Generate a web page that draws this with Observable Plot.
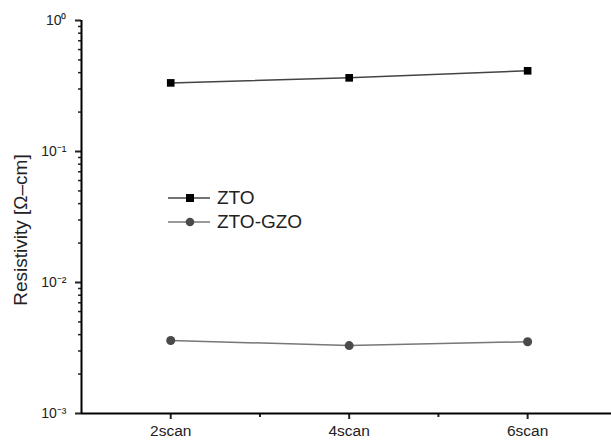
<!DOCTYPE html>
<html>
<head>
<meta charset="utf-8">
<script src="https://cdn.jsdelivr.net/npm/d3@7"></script>
<script src="https://cdn.jsdelivr.net/npm/@observablehq/plot@0.6"></script>
<style>
  body { margin: 0; background: #fff; font-family: "Liberation Sans", Arial, sans-serif; }
  #wrap { position: relative; width: 611px; height: 446px; }
  #legend { position: absolute; left: 167px; top: 186px; font-size: 19px; color: #222; }
  #legend .row { display: flex; align-items: center; height: 24px; }
  #legend svg { margin-right: 6px; }
</style>
</head>
<body>
<div id="wrap"><div id="legend"></div></div>
<script>
const categories = ["2scan", "4scan", "6scan"];
const positions = [2, 4, 6];
const ztoValues = [0.334, 0.365, 0.413];
const ztoGzoValues = [0.00361, 0.00330, 0.00353];
const seriesNames = ["ZTO", "ZTO-GZO"];
const yMajorTicks = [1e-3, 1e-2, 1e-1, 1];
const yMajorLabels = ["10\u207B\u00B3", "10\u207B\u00B2", "10\u207B\u00B9", "10\u2070"];
const yLabel = "Resistivity [\u03A9\u2013cm]";

const zto = categories.map((c, i) => ({x: positions[i], v: ztoValues[i]}));
const gzo = categories.map((c, i) => ({x: positions[i], v: ztoGzoValues[i]}));
const minorY = [];
for (const d of [1e-3, 1e-2, 1e-1]) for (let k = 2; k <= 9; k++) minorY.push(d * k);

const chart = Plot.plot({
  width: 611, height: 446,
  marginLeft: 81, marginRight: 0, marginTop: 20, marginBottom: 33,
  style: {fontFamily: "'Liberation Sans', Arial, sans-serif", color: "#222", background: "#fff"},
  x: {type: "linear", domain: [1, 6.94], axis: null},
  y: {type: "log", domain: [1e-3, 1], axis: null},
  marks: [
    Plot.axisX({ticks: positions, tickFormat: (d) => categories[positions.indexOf(d)], label: null, tickSize: 6, tickPadding: 5, fontSize: 15.5, strokeWidth: 2}),
    Plot.axisX({ticks: [3, 5], tickFormat: () => "", label: null, tickSize: 4, strokeWidth: 2}),
    Plot.axisY({ticks: yMajorTicks, tickFormat: d => yMajorLabels[yMajorTicks.indexOf(d)], label: null, tickSize: 6, tickPadding: 9, fontSize: 14, strokeWidth: 2}),
    Plot.axisY({ticks: minorY, tickFormat: () => "", label: null, tickSize: 3, strokeWidth: 1.5}),
    Plot.ruleY([1e-3], {stroke: "#000", strokeWidth: 2}),
    Plot.ruleX([1], {stroke: "#000", strokeWidth: 2}),
    Plot.text([yLabel], {frameAnchor: "left", textAnchor: "middle", rotate: -90, dx: -61, dy: 13, fontSize: 19, fill: "#222"}),
    Plot.line(zto, {x: "x", y: "v", stroke: "#444", strokeWidth: 1.5}),
    Plot.dot(zto, {x: "x", y: "v", symbol: "square", r: 4.3, fill: "#000", stroke: "none"}),
    Plot.line(gzo, {x: "x", y: "v", stroke: "#777", strokeWidth: 1.5}),
    Plot.dot(gzo, {x: "x", y: "v", symbol: "circle", r: 4.5, fill: "#4a4a4a", stroke: "none"})
  ]
});
document.getElementById("wrap").prepend(chart);

const legend = document.getElementById("legend");
const legendStyles = [
  {line: "#444", fill: "#000", shape: "square"},
  {line: "#777", fill: "#4a4a4a", shape: "circle"}
];
seriesNames.forEach((name, i) => {
  const s = legendStyles[i];
  const row = document.createElement("div");
  row.className = "row";
  const marker = s.shape === "square"
    ? `<rect x="19" y="8" width="8" height="8" fill="${s.fill}"/>`
    : `<circle cx="23" cy="12" r="4.3" fill="${s.fill}"/>`;
  row.innerHTML = `<svg width="44" height="24"><line x1="1" x2="43" y1="12" y2="12" stroke="${s.line}" stroke-width="1.5"/>${marker}</svg><span>${name}</span>`;
  legend.appendChild(row);
});
</script>
</body>
</html>
